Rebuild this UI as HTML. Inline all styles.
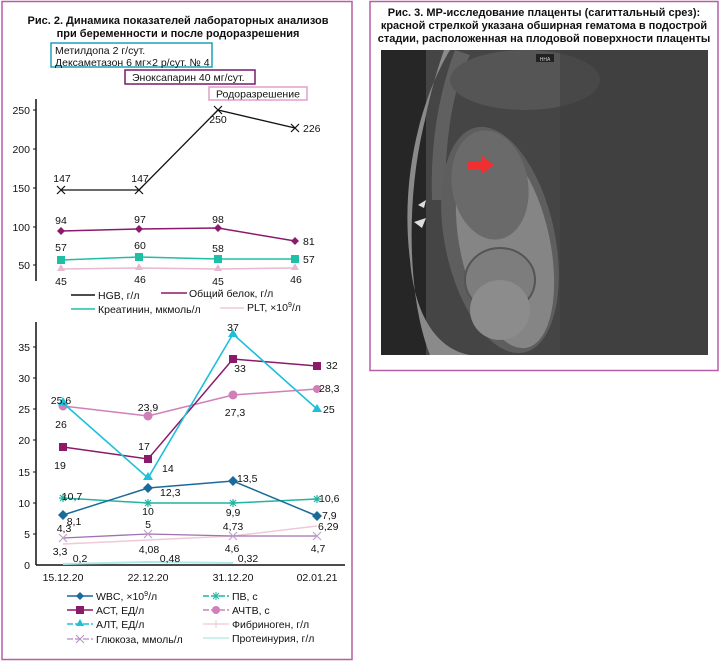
<!DOCTYPE html>
<html><head><meta charset="utf-8"><style>
html,body{margin:0;padding:0;background:#fff}
svg{display:block}
text{font-family:"Liberation Sans",sans-serif;fill:#111}
</style></head><body>
<svg width="720" height="665" viewBox="0 0 720 665" xmlns="http://www.w3.org/2000/svg">
<!-- panels -->
<rect x="2" y="1.5" width="350" height="658" fill="none" stroke="#b65fa6" stroke-width="1.5"/>
<rect x="370" y="1.5" width="348" height="369" fill="none" stroke="#b65fa6" stroke-width="1.5"/>

<!-- left title -->
<text x="178" y="24" font-size="11" font-weight="bold" text-anchor="middle">Рис. 2. Динамика показателей лабораторных анализов</text>
<text x="178" y="37" font-size="11" font-weight="bold" text-anchor="middle">при беременности и после родоразрешения</text>
<rect x="51" y="43" width="161" height="24" fill="none" stroke="#1ea0b8" stroke-width="1.5"/>
<text x="55" y="54" font-size="10.5">Метилдопа 2 г/сут.</text>
<text x="55" y="66" font-size="10.5">Дексаметазон 6 мг×2 р/сут. № 4</text>
<rect x="125" y="70" width="130" height="14" fill="none" stroke="#7a1a6a" stroke-width="1.5"/>
<text x="132" y="81" font-size="10.5">Эноксапарин 40 мг/сут.</text>
<rect x="209" y="87" width="98" height="13" fill="none" stroke="#e0a0c8" stroke-width="1.5"/>
<text x="216" y="97.5" font-size="10.5">Родоразрешение</text>

<!-- top chart -->
<g font-size="10.5">
<line x1="36" y1="99" x2="36" y2="281" stroke="#111" stroke-width="1.5"/>
<g stroke="#111"><line x1="33" y1="110" x2="36" y2="110"/><line x1="33" y1="149" x2="36" y2="149"/><line x1="33" y1="188" x2="36" y2="188"/><line x1="33" y1="227" x2="36" y2="227"/><line x1="33" y1="265" x2="36" y2="265"/></g>
<text x="30" y="114" text-anchor="end">250</text><text x="30" y="153" text-anchor="end">200</text><text x="30" y="192" text-anchor="end">150</text><text x="30" y="231" text-anchor="end">100</text><text x="30" y="269" text-anchor="end">50</text>
<polyline points="61,190 139,190 218,110 295,128" fill="none" stroke="#111" stroke-width="1.3"/>
<g stroke="#111" stroke-width="1.2"><path d="M57,186l8,8M65,186l-8,8"/><path d="M135,186l8,8M143,186l-8,8"/><path d="M214,106l8,8M222,106l-8,8"/><path d="M291,124l8,8M299,124l-8,8"/></g>
<text x="62" y="182" text-anchor="middle">147</text><text x="140" y="182" text-anchor="middle">147</text><text x="218" y="123" text-anchor="middle">250</text><text x="303" y="132">226</text>
<polyline points="61,231 139,229 218,228 295,241" fill="none" stroke="#8b1a6a" stroke-width="1.5"/>
<g fill="#8b1a6a"><path d="M61,227l4,4-4,4-4-4z"/><path d="M139,225l4,4-4,4-4-4z"/><path d="M218,224l4,4-4,4-4-4z"/><path d="M295,237l4,4-4,4-4-4z"/></g>
<text x="61" y="224" text-anchor="middle">94</text><text x="140" y="223" text-anchor="middle">97</text><text x="218" y="223" text-anchor="middle">98</text><text x="303" y="245">81</text>
<polyline points="61,260 139,257 218,259 295,259" fill="none" stroke="#1fbfa5" stroke-width="1.5"/>
<g fill="#1fbfa5"><rect x="57" y="256" width="8" height="8"/><rect x="135" y="253" width="8" height="8"/><rect x="214" y="255" width="8" height="8"/><rect x="291" y="255" width="8" height="8"/></g>
<text x="61" y="251" text-anchor="middle">57</text><text x="140" y="249" text-anchor="middle">60</text><text x="218" y="252" text-anchor="middle">58</text><text x="303" y="263">57</text>
<polyline points="61,269 139,268 218,269 295,268" fill="none" stroke="#e8b8d0" stroke-width="1.5"/>
<g fill="#e8b8d0"><path d="M61,264l4,7h-8z"/><path d="M139,263l4,7h-8z"/><path d="M218,264l4,7h-8z"/><path d="M295,263l4,7h-8z"/></g>
<text x="61" y="285" text-anchor="middle">45</text><text x="140" y="283" text-anchor="middle">46</text><text x="218" y="285" text-anchor="middle">45</text><text x="296" y="283" text-anchor="middle">46</text>
<line x1="71" y1="295" x2="95" y2="295" stroke="#111" stroke-width="1.5"/><text x="98" y="299">HGB, г/л</text>
<line x1="161" y1="293" x2="187" y2="293" stroke="#8b1a6a" stroke-width="1.5"/><text x="189" y="297">Общий белок, г/л</text>
<line x1="71" y1="309" x2="95" y2="309" stroke="#1fbfa5" stroke-width="1.5"/><text x="98" y="313">Креатинин, мкмоль/л</text>
<line x1="220" y1="308" x2="244" y2="308" stroke="#f0c8d8" stroke-width="1.5"/><text x="247" y="311">PLT, ×10<tspan font-size="7" dy="-4">9</tspan><tspan dy="4">/л</tspan></text>
</g>

<!-- bottom chart -->
<g font-size="10.5">
<line x1="36" y1="322" x2="36" y2="565" stroke="#111" stroke-width="1.5"/>
<line x1="36" y1="565" x2="345" y2="565" stroke="#111" stroke-width="1.5"/>
<g stroke="#111"><line x1="33" y1="347" x2="36" y2="347"/><line x1="33" y1="378" x2="36" y2="378"/><line x1="33" y1="409" x2="36" y2="409"/><line x1="33" y1="440" x2="36" y2="440"/><line x1="33" y1="472" x2="36" y2="472"/><line x1="33" y1="503" x2="36" y2="503"/><line x1="33" y1="534" x2="36" y2="534"/></g>
<text x="30" y="351" text-anchor="end">35</text><text x="30" y="382" text-anchor="end">30</text><text x="30" y="413" text-anchor="end">25</text><text x="30" y="444" text-anchor="end">20</text><text x="30" y="476" text-anchor="end">15</text><text x="30" y="507" text-anchor="end">10</text><text x="30" y="538" text-anchor="end">5</text><text x="30" y="569" text-anchor="end">0</text>
<text x="63" y="581" text-anchor="middle">15.12.20</text><text x="148" y="581" text-anchor="middle">22.12.20</text><text x="233" y="581" text-anchor="middle">31.12.20</text><text x="317" y="581" text-anchor="middle">02.01.21</text>

<polyline points="63,564 148,562 233,563" fill="none" stroke="#b0e8ea" stroke-width="2"/>
<polyline points="63,544 148,540 233,536 317,526" fill="none" stroke="#f0c8d8" stroke-width="1.5"/>
<polyline points="63,538 148,534 233,536 317,536" fill="none" stroke="#a070b0" stroke-width="1.3"/>
<g stroke="#c0a0c8" stroke-width="1.2"><path d="M59,534l8,8M67,534l-8,8"/><path d="M144,530l8,8M152,530l-8,8"/><path d="M229,532l8,8M237,532l-8,8"/><path d="M313,532l8,8M321,532l-8,8"/></g>
<polyline points="63,498 148,503 233,503 317,499" fill="none" stroke="#1fb5a0" stroke-width="1.5"/>
<g stroke="#1fb5a0" stroke-width="1.2"><path d="M59,498h8M63,494v8M60,495l6,6M66,495l-6,6"/><path d="M144,503h8M148,499v8M145,500l6,6M151,500l-6,6"/><path d="M229,503h8M233,499v8M230,500l6,6M236,500l-6,6"/><path d="M313,499h8M317,495v8M314,496l6,6M320,496l-6,6"/></g>
<polyline points="63,515 148,488 233,481 317,516" fill="none" stroke="#1a6a9a" stroke-width="1.5"/>
<g fill="#1a6a9a"><path d="M63,510l5,5-5,5-5-5z"/><path d="M148,483l5,5-5,5-5-5z"/><path d="M233,476l5,5-5,5-5-5z"/><path d="M317,511l5,5-5,5-5-5z"/></g>
<polyline points="63,406 148,416 233,395 317,389" fill="none" stroke="#d080b8" stroke-width="1.5"/>
<g fill="#d080b8"><circle cx="63" cy="406" r="4.5"/><circle cx="148" cy="416" r="4.5"/><circle cx="233" cy="395" r="4.5"/><circle cx="317" cy="389" r="4"/></g>
<polyline points="63,447 148,459 233,359 317,366" fill="none" stroke="#8b1a6a" stroke-width="1.5"/>
<g fill="#8b1a6a"><rect x="59" y="443" width="8" height="8"/><rect x="144" y="455" width="8" height="8"/><rect x="229" y="355" width="8" height="8"/><rect x="313" y="362" width="8" height="8"/></g>
<polyline points="63,403 148,478 233,334 317,409" fill="none" stroke="#1ec0d8" stroke-width="1.6"/>
<g fill="#1ec0d8"><path d="M63,397l5,8h-10z"/><path d="M148,472l5,8h-10z"/><path d="M233,329l5,8h-10z"/><path d="M317,404l5,8h-10z"/></g>

<text x="61" y="404" text-anchor="middle">25,6</text><text x="61" y="428" text-anchor="middle">26</text>
<text x="148" y="411" text-anchor="middle">23,9</text><text x="235" y="416" text-anchor="middle">27,3</text>
<text x="233" y="331" text-anchor="middle">37</text><text x="240" y="372" text-anchor="middle">33</text>
<text x="326" y="369">32</text><text x="319" y="392">28,3</text><text x="323" y="413">25</text>
<text x="60" y="469" text-anchor="middle">19</text><text x="144" y="450" text-anchor="middle">17</text><text x="162" y="472">14</text>
<text x="237" y="482">13,5</text><text x="72" y="500" text-anchor="middle">10,7</text><text x="160" y="496">12,3</text>
<text x="148" y="515" text-anchor="middle">10</text><text x="233" y="516" text-anchor="middle">9,9</text><text x="319" y="502">10,6</text>
<text x="74" y="525" text-anchor="middle">8,1</text><text x="322" y="519">7,9</text>
<text x="64" y="532" text-anchor="middle">4,3</text><text x="148" y="528" text-anchor="middle">5</text><text x="233" y="530" text-anchor="middle">4,73</text><text x="318" y="530">6,29</text>
<text x="60" y="555" text-anchor="middle">3,3</text><text x="80" y="562" text-anchor="middle">0,2</text>
<text x="149" y="553" text-anchor="middle">4,08</text><text x="170" y="562" text-anchor="middle">0,48</text>
<text x="232" y="552" text-anchor="middle">4,6</text><text x="248" y="562" text-anchor="middle">0,32</text><text x="318" y="552" text-anchor="middle">4,7</text>

<line x1="67" y1="596" x2="93" y2="596" stroke="#1a6a9a" stroke-width="1.5"/><path d="M80,592l4,4-4,4-4-4z" fill="#1a6a9a"/><text x="96" y="600">WBC, ×10<tspan font-size="7" dy="-4">9</tspan><tspan dy="4">/л</tspan></text>
<line x1="67" y1="610" x2="93" y2="610" stroke="#8b1a6a" stroke-width="1.5"/><rect x="76" y="606" width="8" height="8" fill="#8b1a6a"/><text x="96" y="614">АСТ, ЕД/л</text>
<line x1="67" y1="624" x2="93" y2="624" stroke="#1ec0d8" stroke-width="1.5" stroke-dasharray="6,2"/><path d="M80,619l4,7h-8z" fill="#1ec0d8"/><text x="96" y="628">АЛТ, ЕД/л</text>
<line x1="67" y1="639" x2="93" y2="639" stroke="#b090c0" stroke-width="1.3" stroke-dasharray="6,2"/><path d="M76,635l8,8M84,635l-8,8" stroke="#b090c0"/><text x="96" y="643">Глюкоза, ммоль/л</text>
<line x1="203" y1="596" x2="229" y2="596" stroke="#1fb5a0" stroke-width="1.5" stroke-dasharray="6,2"/><path d="M212,596h8M216,592v8M213,593l6,6M219,593l-6,6" stroke="#1fb5a0"/><text x="232" y="600">ПВ, с</text>
<line x1="203" y1="610" x2="229" y2="610" stroke="#d080b8" stroke-width="1.5" stroke-dasharray="6,2"/><circle cx="216" cy="610" r="4" fill="#d080b8"/><text x="232" y="614">АЧТВ, с</text>
<line x1="203" y1="624" x2="229" y2="624" stroke="#f0d0dc" stroke-width="1.5"/><path d="M216,620v8" stroke="#f0c8d8"/><text x="232" y="628">Фибриноген, г/л</text>
<line x1="203" y1="638" x2="229" y2="638" stroke="#b8ecec" stroke-width="1.5"/><text x="232" y="642">Протеинурия, г/л</text>
</g>

<!-- right title -->
<text x="544" y="16" font-size="11" font-weight="bold" text-anchor="middle">Рис. 3. МР-исследование плаценты (сагиттальный срез):</text>
<text x="544" y="29" font-size="11" font-weight="bold" text-anchor="middle">красной стрелкой указана обширная гематома в подострой</text>
<text x="544" y="42" font-size="11" font-weight="bold" text-anchor="middle">стадии, расположенная на плодовой поверхности плаценты</text>

<!-- MRI image -->
<rect x="381" y="50" width="327" height="305" fill="#454545"/>
<rect x="381" y="50" width="45" height="305" fill="#262626"/>
<path d="M450,50 C420,100 400,180 410,260 C415,320 440,350 470,355 L430,355 C408,300 405,200 425,120 C432,85 440,62 444,50z" fill="#8a8a8a"/>
<path d="M455,50 C440,90 430,140 432,200 L445,200 C445,140 452,90 470,55z" fill="#606060"/>
<ellipse cx="525" cy="80" rx="75" ry="30" fill="#555"/>
<ellipse cx="500" cy="240" rx="55" ry="115" fill="#5e5e5e" transform="rotate(-12 500 240)"/>
<ellipse cx="505" cy="245" rx="45" ry="105" fill="#858585" transform="rotate(-12 505 245)"/>
<ellipse cx="490" cy="185" rx="38" ry="55" fill="#6a6a6a" transform="rotate(-10 490 185)"/>
<ellipse cx="500" cy="280" rx="35" ry="32" fill="#7d7d7d" stroke="#555" stroke-width="2"/>
<ellipse cx="500" cy="310" rx="30" ry="30" fill="#8c8c8c"/>
<rect x="560" y="50" width="148" height="305" fill="#3c3c3c" opacity="0.5"/>
<rect x="536" y="54" width="18" height="8" fill="#222"/>
<text x="545" y="61" font-size="5" text-anchor="middle" style="fill:#ccc">HHA</text>
<path d="M468,161h14v-5l12,9-12,9v-5h-14z" fill="#f03030"/>
<path d="M418,205l8,-5 -2,8z M414,222l12,-4 -4,10z" fill="#ddd"/>
</svg>
</body></html>
